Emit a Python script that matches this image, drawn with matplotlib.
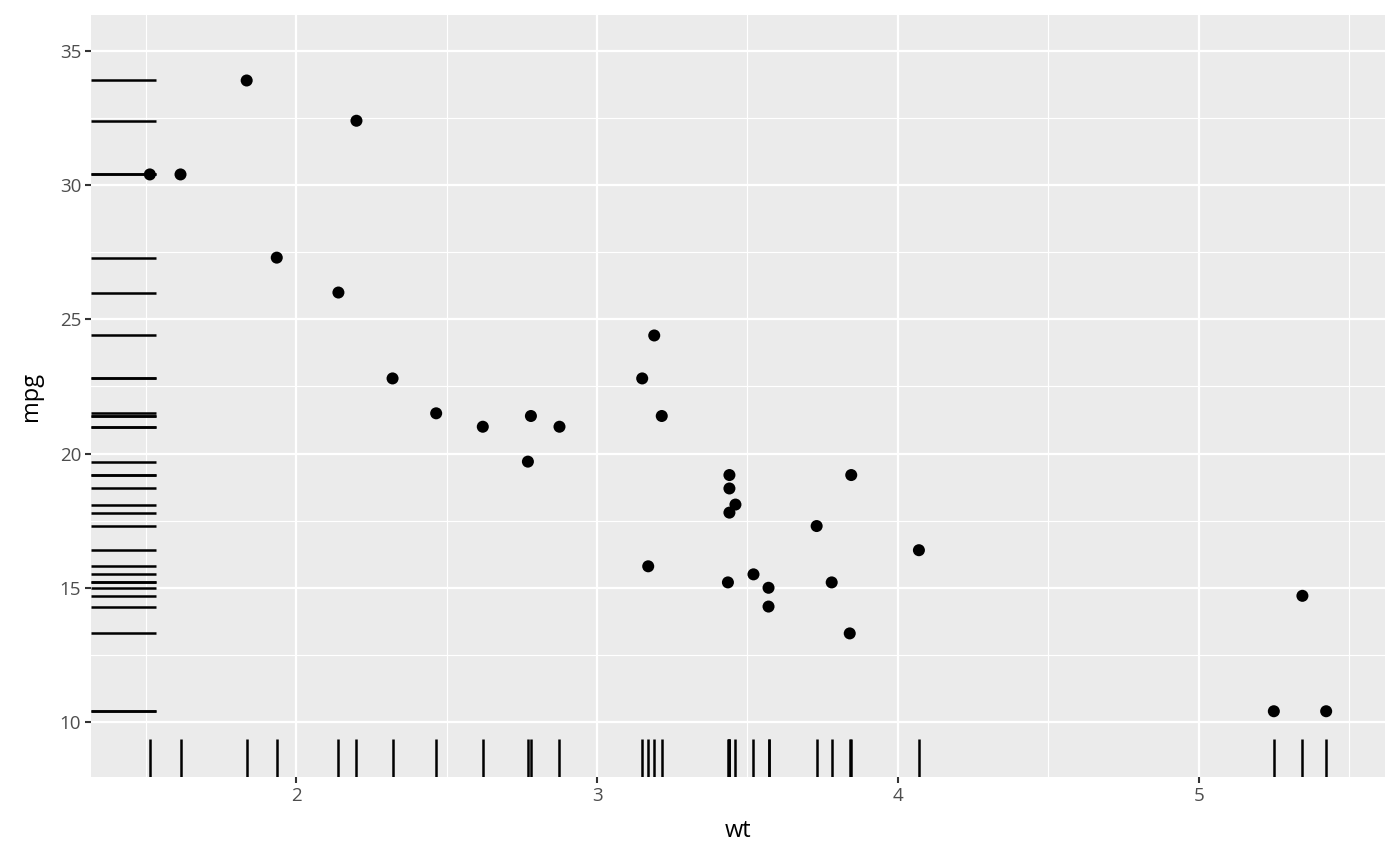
import numpy as np
import matplotlib.pyplot as plt
from matplotlib.ticker import MultipleLocator

# mtcars: weight (1000 lbs) vs miles per gallon
wt = [2.620, 2.875, 2.320, 3.215, 3.440, 3.460, 3.570, 3.190, 3.150, 3.440,
      3.440, 4.070, 3.730, 3.780, 5.250, 5.424, 5.345, 2.200, 1.615, 1.835,
      2.465, 3.520, 3.435, 3.840, 3.845, 1.935, 2.140, 1.513, 3.170, 2.770,
      3.570, 2.780]
mpg = [21.0, 21.0, 22.8, 21.4, 18.7, 18.1, 14.3, 24.4, 22.8, 19.2,
       17.8, 16.4, 17.3, 15.2, 10.4, 10.4, 14.7, 32.4, 30.4, 33.9,
       21.5, 15.5, 15.2, 13.3, 19.2, 27.3, 26.0, 30.4, 15.8, 19.7,
       15.0, 21.4]

plt.rcParams['font.family'] = ['Open Sans', 'DejaVu Sans']

fig = plt.figure(figsize=(14, 8.66), dpi=100)
ax = fig.add_axes([91 / 1400, (866 - 777) / 866, 1294 / 1400, 762 / 866])
ax.set_facecolor('#EBEBEB')
for s in ax.spines.values():
    s.set_visible(False)

ax.set_xlim(1.3174, 5.6196)
ax.set_ylim(7.95, 36.34)

ax.xaxis.set_major_locator(MultipleLocator(1))
ax.xaxis.set_minor_locator(MultipleLocator(0.5))
ax.yaxis.set_major_locator(MultipleLocator(5))
ax.yaxis.set_minor_locator(MultipleLocator(2.5))
ax.grid(which='major', color='white', lw=1.6)
ax.grid(which='minor', color='white', lw=0.8)
ax.set_axisbelow(True)

ax.tick_params(which='major', length=4, width=1.5, color='#333333',
               labelcolor='#4D4D4D', labelsize=13.5, pad=3)
ax.tick_params(which='minor', length=0)

# rugs
rug = 0.05
ax.vlines(wt, 0, rug, transform=ax.get_xaxis_transform(), color='black', lw=1.8)
ax.hlines(mpg, 0, rug, transform=ax.get_yaxis_transform(), color='black', lw=1.8)

ax.scatter(wt, mpg, s=75, color='black', edgecolors='none', zorder=3)

ax.set_xlabel('wt', fontsize=17, labelpad=10)
ax.set_ylabel('mpg', fontsize=17, labelpad=12)

fig.savefig('out.png', dpi=100)
